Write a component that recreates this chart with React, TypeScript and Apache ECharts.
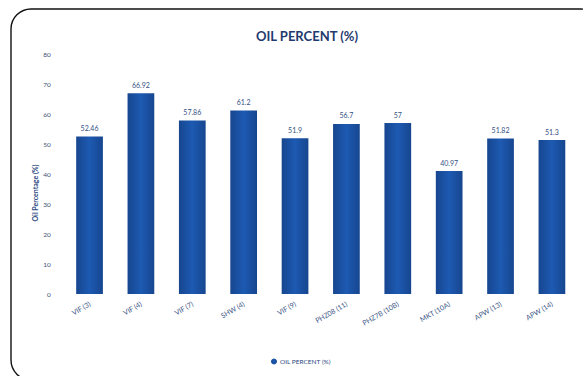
import React, { useEffect, useRef } from "react";
import * as echarts from "echarts";

const categories = ["VIF (3)", "VIF (4)", "VIF (7)", "SHW (4)", "VIF (9)", "PHZ08 (11)", "PHZ7B (10B)", "MKT (10A)", "APW (13)", "APW (14)"];
const oilPercent = [52.46, 66.92, 57.86, 61.2, 51.9, 56.7, 57, 40.97, 51.82, 51.3];
const seriesName = "OIL PERCENT (%)";
const chartTitle = "OIL PERCENT (%)";
const yAxisTitle = "Oil Percentage (%)";

const FONT = "Lato, 'Open Sans', sans-serif";

export default function App() {
  const ref = useRef<HTMLDivElement>(null);
  useEffect(() => {
    document.body.style.margin = "0";
    const chart = echarts.init(ref.current!, null, { renderer: "svg" });
    chart.setOption({
      animation: false,
      backgroundColor: "#ffffff",
      textStyle: { fontFamily: FONT },
      title: {
        text: chartTitle,
        left: 302,
        top: 24,
        textAlign: "center",
        textStyle: { fontSize: 13, fontWeight: "bold", color: "#1f3b6e", fontFamily: FONT },
      },
      legend: {
        data: [seriesName],
        left: 266,
        top: 353,
        icon: "circle",
        itemWidth: 6,
        itemHeight: 6,
        itemGap: 4,
        textStyle: { fontSize: 6.5, color: "#2b4a7f", fontFamily: FONT, padding: [0, 0, 0, -2] },
      },
      grid: { left: 63.85, right: 5.4, top: 54, bottom: 82, containLabel: false },
      xAxis: {
        type: "category",
        data: categories,
        axisLine: { show: false },
        axisTick: { show: false },
        axisLabel: {
          interval: 0,
          rotate: 30,
          fontSize: 7,
          color: "#3c5585",
          margin: 9,
          fontFamily: FONT,
        },
      },
      yAxis: {
        type: "value",
        min: 0,
        max: 80,
        interval: 10,
        splitLine: { show: false },
        axisLine: { show: false },
        axisTick: { show: false },
        axisLabel: { fontSize: 6.5, color: "#3c4f72", margin: 13, fontFamily: FONT },
      },
      graphic: [
        {
          type: "rect",
          shape: { x: 11, y: 9, width: 590, height: 371, r: 20 },
          style: { fill: "none", stroke: "#111111", lineWidth: 1.4 },
          silent: true,
          z: 100,
        },
        {
          type: "text",
          x: 35,
          y: 193,
          rotation: Math.PI / 2,
          style: {
            text: yAxisTitle,
            fontSize: 7,
            fontWeight: "bold",
            fill: "#2b4a7f",
            align: "center",
            verticalAlign: "middle",
            fontFamily: FONT,
          },
        },
      ],
      series: [
        {
          name: seriesName,
          type: "bar",
          data: oilPercent,
          barWidth: "52%",
          itemStyle: {
            color: new echarts.graphic.LinearGradient(0, 0, 1, 0, [
              { offset: 0, color: "#17468f" },
              { offset: 0.5, color: "#1d5ab2" },
              { offset: 1, color: "#17468f" },
            ]),
          },
          label: {
            show: true,
            position: "top",
            distance: 5,
            fontSize: 7,
            color: "#34507f",
            fontFamily: FONT,
          },
        },
      ],
    });
    return () => chart.dispose();
  }, []);
  return <div ref={ref} style={{ width: 583, height: 376 }} />;
}
